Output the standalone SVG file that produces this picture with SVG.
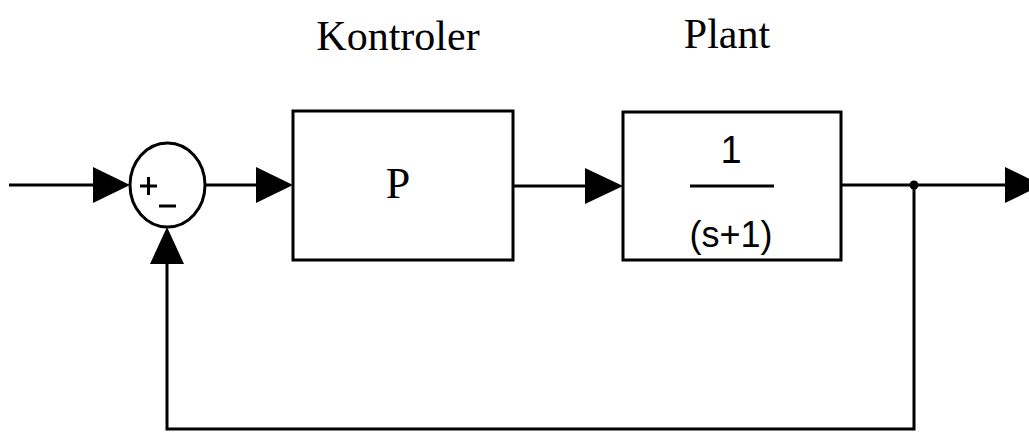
<svg xmlns="http://www.w3.org/2000/svg" width="1029" height="432" viewBox="0 0 1029 432">
<style>
.ln{stroke:#000;stroke-width:3;fill:none}
.bx{stroke:#000;stroke-width:3;fill:#fff}
.ser{font-family:"Liberation Serif","DejaVu Serif",serif;fill:#000}
.san{font-family:"Liberation Sans",Arial,sans-serif;fill:#000}
.ah{fill:#000}
</style>
<rect width="1029" height="432" fill="#fff"/>
<g id="connectors">
<line class="ln" x1="9" y1="185" x2="100" y2="185"/>
<polygon class="ah" points="93,167 130,185 93,203"/>
<line class="ln" x1="205" y1="185" x2="262" y2="185"/>
<polygon class="ah" points="256,167 293,185 256,203"/>
<line class="ln" x1="513" y1="186" x2="590" y2="186"/>
<polygon class="ah" points="585,168 623,186 585,204"/>
<line class="ln" x1="841" y1="185" x2="1010" y2="185"/>
<polygon class="ah" points="1005,167 1042,185 1005,203"/>
<circle cx="914" cy="185" r="4.5" fill="#000"/>
<polyline class="ln" points="914,185 914,429 167,429 167,258"/>
<polygon class="ah" points="150,264 167,227 184,264"/>
</g>
<g id="sum">
<ellipse class="bx" cx="167.5" cy="185" rx="37.5" ry="42"/>
<line class="ln" x1="140" y1="186" x2="157" y2="186"/>
<line class="ln" x1="148.5" y1="177" x2="148.5" y2="195"/>
<line class="ln" x1="159" y1="206" x2="176" y2="206"/>
</g>
<g id="kontroler">
<rect class="bx" x="293" y="111" width="220" height="149"/>
<text class="ser" x="398" y="198" font-size="44" text-anchor="middle">P</text>
<text class="ser" x="398" y="50" font-size="42" text-anchor="middle">Kontroler</text>
</g>
<g id="plant">
<rect class="bx" x="623" y="112" width="218" height="148"/>
<text class="san" x="731" y="163" font-size="38" text-anchor="middle">1</text>
<line class="ln" x1="690" y1="186" x2="774" y2="186"/>
<text class="san" x="731" y="247" font-size="36" text-anchor="middle">(s+1)</text>
<text class="ser" x="727" y="48" font-size="42" text-anchor="middle">Plant</text>
</g>
</svg>
